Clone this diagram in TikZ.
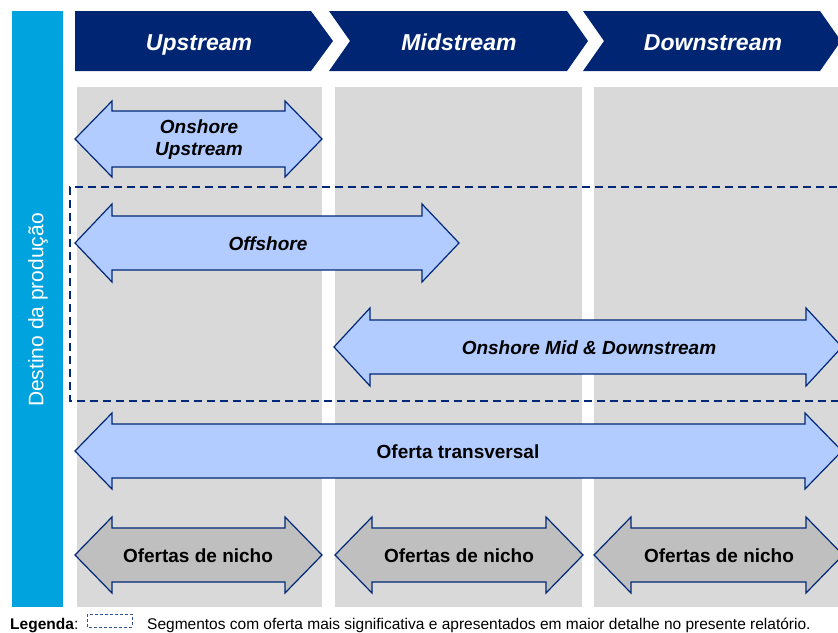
\documentclass[tikz,border=0pt]{standalone}
\usepackage{fontspec}
\setmainfont{Liberation Sans}
\definecolor{headblue}{RGB}{0,38,115}
\definecolor{cyanbar}{RGB}{0,163,222}
\definecolor{colgray}{RGB}{217,217,217}
\definecolor{lightblue}{RGB}{179,204,255}
\definecolor{arrowline}{RGB}{0,40,120}
\definecolor{nichegray}{RGB}{191,191,191}
\newcommand{\dblarrowpath}[6]{% x1 x2 y H S L
  (#1,#3) -- ({#1+#6},{#3-#4}) -- ({#1+#6},{#3-#5}) -- ({#2-#6},{#3-#5}) -- ({#2-#6},{#3-#4})
  -- (#2,#3) -- ({#2-#6},{#3+#4}) -- ({#2-#6},{#3+#5}) -- ({#1+#6},{#3+#5}) -- ({#1+#6},{#3+#4}) -- cycle}
\begin{document}
\begin{tikzpicture}[x=1pt,y=-1pt,
  chevron/.style={fill=headblue,draw=none},
  headtext/.style={text=white,font=\fontsize{23}{26}\selectfont\bfseries\itshape,anchor=base,inner sep=0pt},
  colbox/.style={fill=colgray,draw=none},
  bluearrow/.style={fill=lightblue,draw=arrowline,line width=1.2pt,line join=miter},
  nichearrow/.style={fill=nichegray,draw=arrowline,line width=1.2pt,line join=miter},
  arrowlabel/.style={font=\fontsize{19}{22}\selectfont\bfseries\itshape,align=center,text=black},
  nichelabel/.style={font=\fontsize{19}{22}\selectfont\bfseries,text=black},
  focusbox/.style={draw=arrowline,line width=1.4pt,dash pattern=on 8pt off 5pt},
  legendbox/.style={draw=arrowline!80,line width=0.8pt,dash pattern=on 3pt off 2pt}]
\useasboundingbox (0,0) rectangle (838,632);
\begin{scope}
\clip (0,0) rectangle (838,632);
% vertical bar
\fill[cyanbar] (12,11) rectangle (63,607);
\node[rotate=90,text=white,font=\fontsize{21}{24}\selectfont] (dest) at (38,310) {Destino da produção};
% chevrons
\fill[chevron] (75,11) -- (311,11) -- (333,41) -- (311,71) -- (75,71) -- cycle;
\fill[chevron] (329,11) -- (567,11) -- (588,41) -- (567,71) -- (329,71) -- (350,41) -- cycle;
\fill[chevron] (583,11) -- (820,11) -- (841,41) -- (820,71) -- (583,71) -- (604,41) -- cycle;
\node[headtext] (up) at (199,50) {Upstream};
\node[headtext] (mid) at (459,50) {Midstream};
\node[headtext] (down) at (713,50) {Downstream};
% columns
\fill[colbox] (77,87) rectangle (322,607);
\fill[colbox] (335,87) rectangle (582,607);
\fill[colbox] (594,87) rectangle (845,607);
% arrows
\draw[bluearrow] \dblarrowpath{75}{322}{139}{38}{28}{37};
\node[arrowlabel] (onup) at (199,140) {Onshore\\Upstream};
\draw[bluearrow] \dblarrowpath{75}{459}{243}{39}{27}{37};
\node[arrowlabel] (off) at (268,244) {Offshore};
\draw[bluearrow] \dblarrowpath{334}{842}{347}{39}{27}{36};
\node[arrowlabel] (onmd) at (589,348) {Onshore Mid \& Downstream};
\draw[bluearrow] \dblarrowpath{75}{842}{451}{38}{27}{37};
\node[nichelabel] (transv) at (458,452) {Oferta transversal};
\draw[nichearrow] \dblarrowpath{75}{322}{555}{38}{27}{37};
\node[nichelabel] (n1) at (198,556) {Ofertas de nicho};
\draw[nichearrow] \dblarrowpath{335}{583}{555}{38}{27}{37};
\node[nichelabel] (n2) at (459,556) {Ofertas de nicho};
\draw[nichearrow] \dblarrowpath{594}{843}{555}{38}{27}{37};
\node[nichelabel] (n3) at (719,556) {Ofertas de nicho};
% focus dashed box
\draw[focusbox] (850,187) -- (70,187) -- (70,401) -- (850,401);
% legend
\node[anchor=base west,inner sep=0pt,font=\fontsize{15.5}{17}\selectfont] (leg) at (10,629) {\textbf{Legenda}:};
\draw[legendbox] (87,614) rectangle (132,627);
\node[anchor=base west,inner sep=0pt,font=\fontsize{15.5}{17}\selectfont] (legtext) at (147,629) {Segmentos com oferta mais significativa e apresentados em maior detalhe no presente relatório.};
\end{scope}
\end{tikzpicture}
\end{document}
